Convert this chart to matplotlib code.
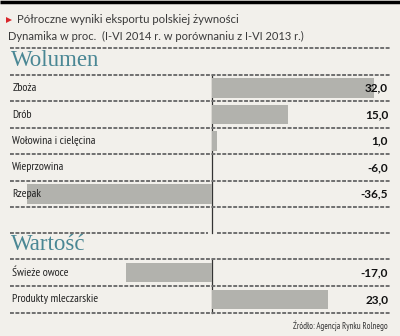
import matplotlib.pyplot as plt
import matplotlib.transforms as mtransforms

# Data
volume_labels = ["Zboża", "Drób", "Wołowina i cielęcina", "Wieprzowina", "Rzepak"]
volume_values = [32.0, 15.0, 1.0, -6.0, -36.5]
# the original graphic has no bar for "Wieprzowina"
volume_drawn = [True, True, True, False, True]

value_labels = ["Świeże owoce", "Produkty mleczarskie"]
value_values = [-17.0, 23.0]

BG = "#f2f0eb"
BAR = "#b2b2ad"
TEAL = "#4a8794"
DASH = "#6f6f6f"
NARROW = ["PT Sans Narrow", "Fira Sans Condensed", "Archivo Narrow", "Lato"]
W, H = 400, 336

fig = plt.figure(figsize=(W / 100, H / 100), dpi=100, facecolor=BG)

# overlay in pixel coordinates for layout elements
ov = fig.add_axes([0, 0, 1, 1])
ov.set_xlim(0, W)
ov.set_ylim(H, 0)
ov.axis("off")


def px(y):
    return 1 - y / H


XLIM = (-202 / 5.06, 178 / 5.06)


def section(top, bottom, labels, values, drawn):
    ax = fig.add_axes([10 / W, px(bottom), 380 / W, (bottom - top) / H])
    n = len(labels)
    rows = list(range(n))
    for i in rows:
        if drawn[i]:
            ax.barh(i, values[i], height=0.74, color=BAR, zorder=1)
    ax.set_xlim(*XLIM)
    ax.set_ylim(n - 0.5, -0.5)
    ax.axis("off")
    tr = mtransforms.blended_transform_factory(ax.transAxes, ax.transData)
    for i in rows:
        ax.text(0.006, i, labels[i], transform=tr, ha="left", va="center",
                fontsize=8.5, color="#222222", family=NARROW)
        ax.text(0.995, i, f"{values[i]:.1f}".replace(".", ","), transform=tr,
                ha="right", va="center", fontsize=8.5, fontweight="bold",
                color="#111111", family="Lato")
    return n


n1 = section(75, 207, volume_labels, volume_values, volume_drawn)
n2 = section(259, 313, value_labels, value_values, [True, True])

# top rule
ov.plot([0, W], [1.5, 1.5], color="black", lw=2.5, solid_capstyle="butt")

# title
ov.plot([9], [19.5], marker=">", color="#d9262b", ms=5, mew=0)
ov.text(17, 19.5, "Półroczne wyniki eksportu polskiej żywności", fontsize=8.2,
        color="#3a3a3a", va="center", ha="left", family="Lato")
ov.text(8, 36, "Dynamika w proc.  (I-VI 2014 r. w porównaniu z I-VI 2013 r.)",
        fontsize=8.0, color="#3a3a3a", va="center", ha="left", family="Lato")

ov.text(11, 61, "Wolumen", fontsize=16.5, color=TEAL, va="center", ha="left",
        family="Liberation Serif")
ov.text(11, 245, "Wartość", fontsize=16.5, color=TEAL, va="center", ha="left",
        family="Liberation Serif")

# zero axis lines
ov.plot([212, 212], [75, 233], color="#333333", lw=0.9)
ov.plot([212, 212], [259, 313], color="#333333", lw=0.9)

ov.text(388, 326, "Źródło: Agencja Rynku Rolnego", fontsize=6.3, color="#333333",
        va="center", ha="right", family=NARROW)

# dashed rules
rules = [(10, 390, 47.5), (10, 390, 75), (10, 208, 233), (217, 390, 233),
         (10, 390, 259)]
for k in range(n1):
    rules.append((10, 390, 75 + (k + 1) * (207 - 75) / n1))
for k in range(n2):
    rules.append((10, 390, 259 + (k + 1) * (313 - 259) / n2))
for x0, x1, y in rules:
    ov.hlines(y, x0, x1, color=DASH, lw=1.4, linestyles=(0, (2, 0.8)))

fig.savefig("out.png", dpi=100, facecolor=BG)
